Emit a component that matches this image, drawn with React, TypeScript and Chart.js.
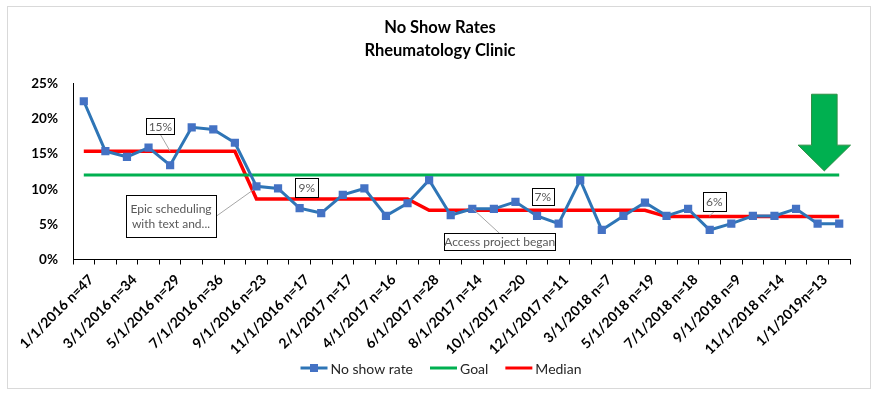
import React, { useEffect, useRef } from 'react';
import { Chart, registerables } from 'chart.js';

Chart.register(...registerables);

// ---------- data ----------
const categories = [
  '1/1/2016 n=47', '2/1/2016', '3/1/2016 n=34', '4/1/2016', '5/1/2016 n=29', '6/1/2016',
  '7/1/2016 n=36', '8/1/2016', '9/1/2016 n=23', '10/1/2016', '11/1/2016 n=17', '1/1/2017',
  '2/1/2017 n=17', '3/1/2017', '4/1/2017 n=16', '5/1/2017', '6/1/2017 n=28', '7/1/2017',
  '8/1/2017 n=14', '9/1/2017', '10/1/2017 n=20', '11/1/2017', '12/1/2017 n=11', '2/1/2018',
  '3/1/2018 n=7', '4/1/2018', '5/1/2018 n=19', '6/1/2018', '7/1/2018 n=18', '8/1/2018',
  '9/1/2018 n=9', '10/1/2018', '11/1/2018 n=14', '12/1/2018', '1/1/2019n=13', '2/1/2019',
];

const noShowRate = [
  22.5, 15.4, 14.6, 15.9, 13.4, 18.8, 18.5, 16.6, 10.4, 10.1, 7.3, 6.6,
  9.2, 10.1, 6.2, 8.0, 11.3, 6.3, 7.2, 7.2, 8.2, 6.2, 5.1, 11.3,
  4.2, 6.2, 8.1, 6.2, 7.2, 4.2, 5.1, 6.2, 6.2, 7.2, 5.1, 5.1,
];

const goal = [
  12, 12, 12, 12, 12, 12, 12, 12, 12, 12, 12, 12,
  12, 12, 12, 12, 12, 12, 12, 12, 12, 12, 12, 12,
  12, 12, 12, 12, 12, 12, 12, 12, 12, 12, 12, 12,
];

const median = [
  15.4, 15.4, 15.4, 15.4, 15.4, 15.4, 15.4, 15.4,
  8.6, 8.6, 8.6, 8.6, 8.6, 8.6, 8.6, 8.6,
  7.0, 7.0, 7.0, 7.0, 7.0, 7.0, 7.0, 7.0, 7.0, 7.0, 7.0,
  6.1, 6.1, 6.1, 6.1, 6.1, 6.1, 6.1, 6.1, 6.1,
];

const yTickValues = [0, 5, 10, 15, 20, 25];
const titleLines = ['No Show Rates', 'Rheumatology Clinic'];
const seriesNames = ['No show rate', 'Goal', 'Median'];
const calloutTexts = ['15%', 'Epic scheduling\nwith text and...', '9%', 'Access project began', '7%', '6%'];

// ---------- layout / style config ----------
const FONT = 'Lato, "Open Sans", "Noto Sans", sans-serif';
const BLUE_LINE = '#2E75B6';
const BLUE_MARK = '#4472C4';
const GREEN = '#00B050';
const RED = '#FF0000';

// callout placement in data coordinates (category index, value)
const callouts = [
  { text: calloutTexts[0], i: 3.55, v: 18.96, w: 28, h: 16, lead: { from: 'bottom', i: 4.0, v: 15.4 } },
  { text: calloutTexts[1], i: 4.04, v: 6.18, w: 90, h: 42, lead: { from: 'right', i: 7.85, v: 9.9 } },
  { text: calloutTexts[2], i: 10.33, v: 10.18, w: 23, h: 19, lead: null },
  { text: calloutTexts[3], i: 19.27, v: 2.53, w: 111, h: 17, lead: { from: 'top', i: 18.05, v: 7.13 } },
  { text: calloutTexts[4], i: 21.27, v: 8.92, w: 22, h: 17, lead: null },
  { text: calloutTexts[5], i: 29.21, v: 8.28, w: 23, h: 19, lead: { from: 'bottom', i: 28.98, v: 6.16 } },
];

const arrow = { i: 34.31, top: 23.5, base: 16.26, tip: 12.6, shaftHalf: 12.8, headHalf: 26.2 };

function makeDecorPlugin() {
  return {
    id: 'decor',
    afterDraw(chart: any) {
      const ctx: CanvasRenderingContext2D = chart.ctx;
      const xs = chart.scales.x;
      const ys = chart.scales.y;
      const px = (i: number) => xs.getPixelForValue(i);
      const py = (v: number) => ys.getPixelForValue(v);

      ctx.save();
      // outer frame
      ctx.strokeStyle = '#D9D9D9';
      ctx.lineWidth = 1;
      ctx.strokeRect(7.5, 6.5, 863, 382);

      // green arrow
      const ax = px(arrow.i);
      ctx.beginPath();
      ctx.moveTo(ax - arrow.shaftHalf, py(arrow.top));
      ctx.lineTo(ax + arrow.shaftHalf, py(arrow.top));
      ctx.lineTo(ax + arrow.shaftHalf, py(arrow.base));
      ctx.lineTo(ax + arrow.headHalf, py(arrow.base));
      ctx.lineTo(ax, py(arrow.tip));
      ctx.lineTo(ax - arrow.headHalf, py(arrow.base));
      ctx.lineTo(ax - arrow.shaftHalf, py(arrow.base));
      ctx.closePath();
      ctx.fillStyle = GREEN;
      ctx.fill();
      ctx.strokeStyle = '#2F8F46';
      ctx.lineWidth = 1;
      ctx.stroke();

      // callouts
      ctx.font = `12px ${FONT}`;
      for (const c of callouts) {
        const cx = px(c.i);
        const cy = py(c.v);
        const left = Math.round(cx - c.w / 2) + 0.5;
        const top = Math.round(cy - c.h / 2) + 0.5;
        if (c.lead) {
          let sx = cx, sy = cy;
          if (c.lead.from === 'bottom') sy = top + c.h;
          if (c.lead.from === 'top') sy = top;
          if (c.lead.from === 'right') sx = left + c.w;
          ctx.beginPath();
          ctx.moveTo(sx, sy);
          ctx.lineTo(px(c.lead.i), py(c.lead.v));
          ctx.strokeStyle = '#A6A6A6';
          ctx.lineWidth = 1;
          ctx.stroke();
        }
        ctx.fillStyle = '#FFFFFF';
        ctx.fillRect(left, top, c.w, c.h);
        ctx.strokeStyle = '#000000';
        ctx.lineWidth = 1;
        ctx.strokeRect(left, top, c.w, c.h);
        const lines = c.text.split('\n');
        const lh = 15;
        ctx.fillStyle = '#595959';
        ctx.textAlign = 'center';
        ctx.textBaseline = 'middle';
        lines.forEach((ln, k) => {
          ctx.fillText(ln, cx, cy + (k - (lines.length - 1) / 2) * lh + 0.5);
        });
      }

      // legend
      ctx.font = `14px ${FONT}`;
      const symW = 27, gap = 3, itemGap = 17;
      const widths = seriesNames.map((n) => symW + gap + ctx.measureText(n).width);
      const total = widths.reduce((a, b) => a + b, 0) + itemGap * (widths.length - 1);
      let x = chart.width / 2 + 1 - total / 2;
      const ly = 368;
      const colors = [BLUE_LINE, GREEN, RED];
      seriesNames.forEach((n, k) => {
        ctx.beginPath();
        ctx.moveTo(x, ly);
        ctx.lineTo(x + symW, ly);
        ctx.strokeStyle = colors[k];
        ctx.lineWidth = 3;
        ctx.stroke();
        if (k === 0) {
          ctx.fillStyle = BLUE_MARK;
          ctx.fillRect(x + symW / 2 - 4, ly - 4, 8, 8);
        }
        ctx.fillStyle = '#262626';
        ctx.textAlign = 'left';
        ctx.textBaseline = 'middle';
        ctx.fillText(n, x + symW + gap, ly + 1);
        x += widths[k] + itemGap;
      });
      ctx.restore();
    },
  };
}

export default function App() {
  const ref = useRef<HTMLCanvasElement | null>(null);

  useEffect(() => {
    if (!ref.current) return;
    const chart = new Chart(ref.current, {
      type: 'line',
      data: {
        labels: categories,
        datasets: [
          {
            label: seriesNames[0],
            data: noShowRate,
            borderColor: BLUE_LINE,
            backgroundColor: BLUE_MARK,
            borderWidth: 3,
            pointStyle: 'rect',
            pointRadius: 5.8,
            pointBorderWidth: 0,
            pointBackgroundColor: BLUE_MARK,
            tension: 0,
          },
          {
            label: seriesNames[1],
            data: goal,
            borderColor: GREEN,
            borderWidth: 3,
            pointRadius: 0,
            tension: 0,
          },
          {
            label: seriesNames[2],
            data: median,
            borderColor: RED,
            borderWidth: 3.5,
            pointRadius: 0,
            tension: 0,
          },
        ],
      },
      options: {
        responsive: false,
        animation: false,
        layout: { padding: { left: 30, right: 30, top: 6, bottom: 40 } },
        plugins: {
          legend: { display: false },
          tooltip: { enabled: false },
          title: {
            display: true,
            text: titleLines,
            color: '#000000',
            font: { family: FONT, size: 16.5, weight: 'bold', lineHeight: 1.36 },
            padding: { top: 10.8, bottom: 22 },
          },
        },
        scales: {
          x: {
            type: 'category',
            offset: true,
            grid: {
              display: true,
              drawOnChartArea: false,
              drawTicks: true,
              tickLength: 5,
              offset: true,
              color: '#000000',
            },
            border: { display: true, color: '#000000', width: 1 },
            ticks: {
              autoSkip: false,
              maxRotation: 45,
              minRotation: 45,
              padding: 7,
              labelOffset: 7.5,
              color: '#000000',
              font: { family: FONT, size: 14, weight: 'bold' },
              callback: (_v: any, idx: number) => (idx % 2 === 0 ? categories[idx] : ''),
            },
            afterFit: (s: any) => { s.height = 97.5; },
          },
          y: {
            min: 0,
            max: 25,
            afterBuildTicks: (s: any) => { s.ticks = yTickValues.map((v) => ({ value: v })); },
            grid: { display: false, drawTicks: false },
            border: { display: true, color: '#000000', width: 1 },
            ticks: {
              padding: 15,
              color: '#000000',
              font: { family: FONT, size: 13.5, weight: 'bold' },
              callback: (v: any) => `${v}%`,
            },
            afterFit: (s: any) => { s.width = 43; },
          },
        },
      },
      plugins: [makeDecorPlugin()],
    } as any);
    return () => chart.destroy();
  }, []);

  return (
    <div style={{ position: 'fixed', left: 0, top: 0, width: 880, height: 397, background: '#fff' }}>
      <canvas ref={ref} width={880} height={397} style={{ display: 'block' }} />
    </div>
  );
}
